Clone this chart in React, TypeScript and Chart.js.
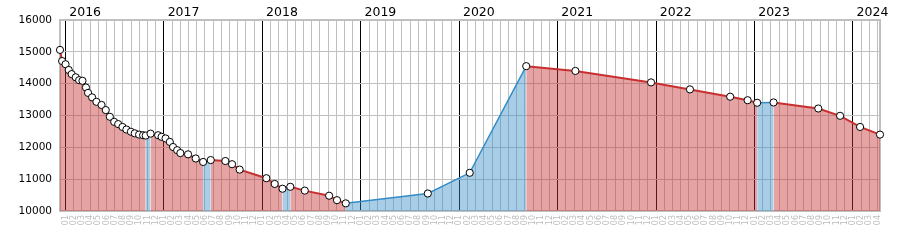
import React, { useEffect, useRef } from 'react';
import { Chart, registerables } from 'chart.js';

Chart.register(...registerables);

const DATES = [
  '2015-12-11', '2015-12-19', '2016-01-01', '2016-01-13', '2016-01-24', '2016-02-08', '2016-02-20',
  '2016-03-03', '2016-03-16', '2016-03-24', '2016-04-08', '2016-04-24', '2016-05-13', '2016-05-29',
  '2016-06-13', '2016-06-29', '2016-07-14', '2016-07-30', '2016-08-14', '2016-08-31', '2016-09-14',
  '2016-09-30', '2016-10-15', '2016-10-25', '2016-11-12', '2016-12-10', '2016-12-23', '2017-01-07',
  '2017-01-23', '2017-02-04', '2017-02-18', '2017-03-01', '2017-03-30', '2017-04-27', '2017-05-25',
  '2017-06-22', '2017-08-16', '2017-09-10', '2017-10-08', '2018-01-16', '2018-02-15', '2018-03-15',
  '2018-04-13', '2018-06-06', '2018-09-05', '2018-10-04', '2018-11-06', '2019-09-06', '2020-02-09',
  '2020-09-06', '2021-03-06', '2021-12-13', '2022-05-05', '2022-10-02', '2022-12-06', '2023-01-11',
  '2023-03-11', '2023-08-25', '2023-11-14', '2024-01-28', '2024-04-10',
];

const VALUES = [
  15060, 14710, 14610, 14430, 14300, 14200, 14110,
  14090, 13880, 13710, 13570, 13430, 13330, 13170,
  12960, 12800, 12730, 12640, 12560, 12490, 12440,
  12400, 12380, 12370, 12430, 12380, 12330, 12280,
  12170, 12010, 11910, 11820, 11780, 11650, 11540,
  11600, 11570, 11470, 11300, 11030, 10850, 10700,
  10760, 10640, 10480, 10340, 10240, 10550, 11200,
  14550, 14400, 14040, 13820, 13590, 13480, 13400,
  13410, 13220, 12990, 12640, 12400,
];

const MONTH_LABELS = ['01', '02', '03', '04', '05', '06', '07', '08', '09', '10', '11', '12'];
const YEAR_LABELS = ['2016', '2017', '2018', '2019', '2020', '2021', '2022', '2023', '2024'];
const FIRST_YEAR = 2016;
const Y_MIN = 10000;
const Y_MAX = 16000;
const Y_STEP = 1000;

const RED_LINE = 'rgb(200,48,48)';
const RED_FILL = 'rgba(200,50,50,0.45)';
const BLUE_LINE = 'rgb(50,140,200)';
const BLUE_FILL = 'rgba(50,140,200,0.43)';
const GRID = '#c0c0c0';

function monthPos(s: string): number {
  const [y, m, d] = s.split('-').map(Number);
  const days = new Date(y, m, 0).getDate();
  return (y - FIRST_YEAR) * 12 + (m - 1) + (d - 1) / days;
}

export default function App() {
  const ref = useRef<HTMLCanvasElement>(null);

  useEffect(() => {
    if (!ref.current) return;
    Chart.defaults.font.family = '"DejaVu Sans", Verdana, sans-serif';
    const xs = DATES.map(monthPos);
    const data = xs.map((x, i) => ({ x, y: VALUES[i] }));
    const xMin = xs[0];
    const xMax = xs[xs.length - 1];
    const monthCount = Math.floor(xMax) + 1;
    const up = (c: any) => c.p1.parsed.y > c.p0.parsed.y;

    const chart = new Chart(ref.current, {
      type: 'line',
      data: {
        datasets: [
          {
            data,
            fill: 'start',
            clip: false as any,
            tension: 0,
            borderColor: RED_LINE,
            backgroundColor: RED_FILL,
            borderWidth: 2,
            pointRadius: 3.6,
            pointBackgroundColor: '#ffffff',
            pointBorderColor: '#000000',
            pointBorderWidth: 1,
            segment: {
              borderColor: (c: any) => (up(c) ? BLUE_LINE : RED_LINE),
              backgroundColor: (c: any) => (up(c) ? BLUE_FILL : RED_FILL),
              borderWidth: (c: any) => (up(c) ? 1.5 : 2),
            },
          } as any,
        ],
      },
      options: {
        animation: false,
        responsive: true,
        maintainAspectRatio: false,
        events: [],
        layout: { padding: 0 },
        plugins: { legend: { display: false }, tooltip: { enabled: false } },
        scales: {
          x: {
            type: 'linear',
            position: 'bottom',
            min: xMin,
            max: xMax,
            afterBuildTicks: (s: any) => {
              s.ticks = Array.from({ length: monthCount }, (_, i) => ({ value: i }));
            },
            afterFit: (s: any) => {
              s.height = 39;
            },
            grid: {
              color: (c: any) => (c.tick && Math.round(c.tick.value) % 12 === 0 ? '#000000' : GRID),
              lineWidth: 1,
              drawTicks: false,
            },
            border: { color: GRID, width: 2 },
            ticks: {
              autoSkip: false,
              minRotation: 90,
              maxRotation: 90,
              padding: 4,
              color: '#bdbdbd',
              font: { size: 8 },
              callback: (v: any) => MONTH_LABELS[((Math.round(v) % 12) + 12) % 12],
            },
          },
          x2: {
            type: 'linear',
            position: 'top',
            min: xMin,
            max: xMax,
            afterBuildTicks: (s: any) => {
              s.ticks = YEAR_LABELS.map((_, i) => ({ value: i * 12 + 0.45 }));
            },
            afterFit: (s: any) => {
              s.height = 20;
            },
            grid: { drawOnChartArea: false, drawTicks: false },
            border: { color: GRID, width: 2 },
            ticks: {
              align: 'start',
              padding: 0,
              autoSkip: false,
              maxRotation: 0,
              minRotation: 0,
              color: '#000000',
              font: { size: 12.5 },
              callback: (_v: any, i: number) => YEAR_LABELS[i],
            },
          },
          y: {
            type: 'linear',
            position: 'left',
            min: Y_MIN,
            max: Y_MAX,
            afterFit: (s: any) => {
              s.width = 60;
            },
            ticks: {
              stepSize: Y_STEP,
              padding: 8,
              color: '#000000',
              font: { size: 10.5 },
              callback: (v: any) => String(v),
            },
            grid: { color: GRID, drawTicks: false },
            border: { color: GRID, width: 2 },
          },
          y2: {
            type: 'linear',
            position: 'right',
            min: Y_MIN,
            max: Y_MAX,
            afterFit: (s: any) => {
              s.width = 20;
            },
            ticks: { display: false },
            grid: { drawOnChartArea: false, drawTicks: false },
            border: { color: GRID, width: 2 },
          },
        } as any,
      },
    });
    return () => chart.destroy();
  }, []);

  return (
    <div style={{ position: 'absolute', left: 0, top: 0, width: 900, height: 250, background: '#fff' }}>
      <canvas ref={ref} />
    </div>
  );
}
